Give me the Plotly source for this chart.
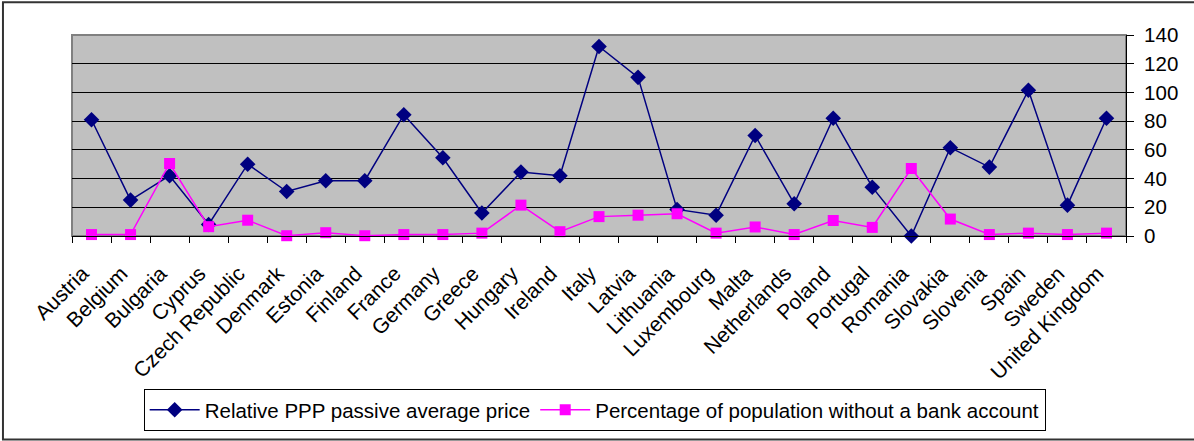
import plotly.graph_objects as go

countries = ["Austria", "Belgium", "Bulgaria", "Cyprus", "Czech Republic", "Denmark",
             "Estonia", "Finland", "France", "Germany", "Greece", "Hungary", "Ireland",
             "Italy", "Latvia", "Lithuania", "Luxembourg", "Malta", "Netherlands",
             "Poland", "Portugal", "Romania", "Slovakia", "Slovenia", "Spain", "Sweden",
             "United Kingdom"]

ppp_price = [81, 25, 42, 8, 50, 31, 38.5, 38.5, 84.5, 54.5, 16, 44.5, 42,
             132, 110.5, 18.5, 14.5, 70, 22.5, 82, 34, 0, 61.5, 48, 101.5, 21.5, 82]
unbanked = [1, 1, 50.5, 6.5, 11, 0.2, 2.3, 0.2, 1, 1, 2, 21.5, 3,
            13.5, 14.5, 15.5, 2, 6.3, 1, 10.8, 6, 47, 11.8, 1, 2, 1, 2]

y_ticks = [0, 20, 40, 60, 80, 100, 120, 140]

FONT = "Liberation Sans, Arial, sans-serif"

fig = go.Figure()
fig.add_trace(go.Scatter(
    x=countries, y=ppp_price, name="Relative PPP passive average price",
    mode="lines+markers",
    line=dict(color="#000080", width=1.5),
    marker=dict(symbol="diamond", size=12, color="#000080"),
    cliponaxis=False,
))
fig.add_trace(go.Scatter(
    x=countries, y=unbanked, name="Percentage of population without a bank account",
    mode="lines+markers",
    line=dict(color="#FF00FF", width=1.5),
    marker=dict(symbol="square", size=11, color="#FF00FF"),
    cliponaxis=False,
))

fig.update_layout(
    width=1194, height=441,
    margin=dict(l=72, r=68, t=35, b=205, autoexpand=False),
    paper_bgcolor="white",
    plot_bgcolor="#C0C0C0",
    font=dict(family=FONT, size=20, color="black"),
    showlegend=True,
    legend=dict(
        orientation="h",
        x=0.068, y=-0.761, xanchor="left", yanchor="top",
        bordercolor="#000000", borderwidth=1,
        font=dict(family=FONT, size=20.5, color="black"),
        bgcolor="white",
        itemwidth=50,
    ),
    xaxis=dict(
        type="category",
        automargin=False,
        range=[-0.5, len(countries) - 0.5],
        autorange=False,
        tickson="boundaries",
        ticks="outside", ticklen=6, tickcolor="black", tickwidth=1,
        ticklabelstandoff=16,
        ticklabelshift=-9,
        showline=True, linecolor="black", linewidth=1,
        showgrid=False,
        tickangle=-45,
        tickfont=dict(family=FONT, size=21),
    ),
    yaxis=dict(
        side="right",
        automargin=False,
        range=[0, 140],
        tickvals=y_ticks,
        ticktext=[str(v) for v in y_ticks],
        ticks="outside", ticklen=7, tickcolor="black", tickwidth=1,
        ticklabelstandoff=6,
        showline=True, linecolor="black", linewidth=1,
        showgrid=True, gridcolor="black", gridwidth=1,
        zeroline=False,
        tickfont=dict(family=FONT, size=20.5),
    ),
    shapes=[
        dict(type="rect", xref="paper", yref="paper", x0=0, x1=1, y0=0, y1=1,
             line=dict(color="#808080", width=2), layer="below"),
        dict(type="rect", xref="paper", yref="paper",
             x0=-0.0655, x1=1.08, y0=-1.012, y1=1.163,
             line=dict(color="#333333", width=2), layer="above"),
    ],
)

fig.write_html("out.html")
